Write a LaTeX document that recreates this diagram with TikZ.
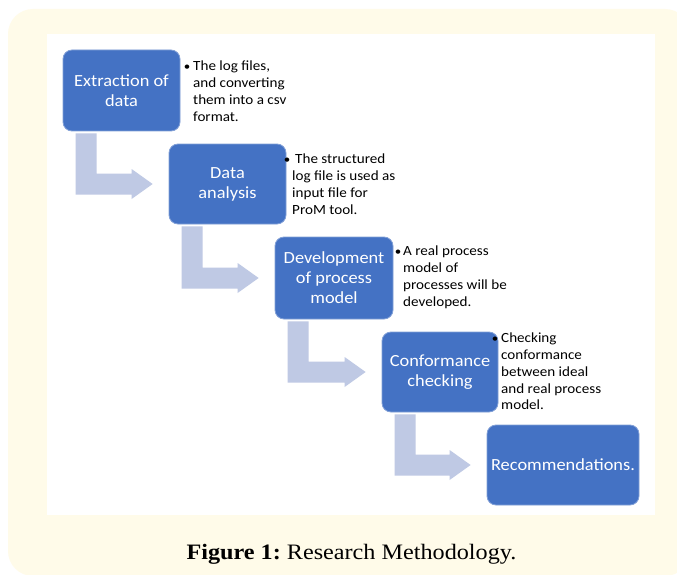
\documentclass[tikz,border=0pt]{standalone}
\usepackage{fontspec}
\usetikzlibrary{calc}
\newfontfamily\carl[FakeStretch=1.08]{Carlito}
\newfontfamily\capfont[FakeStretch=1.1]{Liberation Serif}
\definecolor{cream}{RGB}{255,251,233}
\definecolor{boxblue}{RGB}{68,114,196}
\definecolor{boxedge}{RGB}{130,160,215}
\definecolor{arrowblue}{RGB}{191,201,228}
\tikzset{
 stepbox/.style={fill=boxblue, draw=boxedge, line width=0.8pt, rounded corners=9pt,
   text=white, align=center, font=\carl\fontsize{17}{20}\selectfont, inner sep=0pt},
 note/.style={anchor=north west, align=left, inner sep=0pt, font=\carl\fontsize{14}{16.7}\selectfont},
 dot/.style={anchor=base, inner sep=0pt, font=\carl\fontsize{12}{14}\selectfont},
}
\newcommand\bentarrow[2]{%
 \coordinate (#1s) at ($(#1.south west)+(13,2)$);
 \coordinate (#1t) at ($(#2.west)+(-16,0)$);
 \fill[arrowblue] let \p1=(#1s), \p2=(#1t) in
   (\x1,\y1) -- (\x1+21pt,\y1) -- (\x1+21pt,\y2+10.5pt) -- (\x2-21pt,\y2+10.5pt)
   -- (\x2-21pt,\y2+15pt) -- (\x2,\y2) -- (\x2-21pt,\y2-15pt) -- (\x2-21pt,\y2-10.5pt)
   -- (\x1,\y2-10.5pt) -- cycle;
}
\begin{document}
\begin{tikzpicture}[x=1pt,y=-1pt]
\useasboundingbox (0,0) rectangle (677,575);
\fill[white] (0,0) rectangle (677,575);
\begin{scope}
\clip (0,0) rectangle (677,575);
\fill[cream, rounded corners=25pt] (8,9) rectangle (690,576);
\end{scope}
\fill[white] (47,34) rectangle (655,515);

\node[stepbox, minimum width=117pt, minimum height=81pt] (b1) at (121.5,90.5) {Extraction of\\data};
\node[stepbox, minimum width=117pt, minimum height=80pt] (b2) at (227.5,184) {Data\\analysis};
\node[stepbox, minimum width=118pt, minimum height=82pt] (b3) at (334,278) {Development\\of process\\model};
\node[stepbox, minimum width=116pt, minimum height=80pt] (b4) at (440,372) {Conformance\\checking};
\node[stepbox, minimum width=152pt, minimum height=80pt] (b5) at (563,465) {Recommendations.};

\bentarrow{b1}{b2}
\bentarrow{b2}{b3}
\bentarrow{b3}{b4}
\bentarrow{b4}{b5}

\node[dot] (d1) at (187,70.5) {•};
\node[note] (n1) at (193,61) {The log files,\\and converting\\them into a csv\\format.};
\node[dot] (d2) at (287,163.5) {•};
\node[note] (n2) at (292,154) {\hspace{3pt}The structured\\log file is used as\\input file for\\ProM tool.};
\node[dot] (d3) at (398,255.5) {•};
\node[note] (n3) at (403,246) {A real process\\model of\\processes will be\\developed.};
\node[dot] (d4) at (495,342.5) {•};
\node[note] (n4) at (501,333) {Checking\\conformance\\between ideal\\and real process\\model.};

\node[anchor=base, inner sep=0pt, font=\capfont\fontsize{22}{26}\selectfont] (cap) at (351.5,559) {\textbf{Figure 1:}\hspace{-2pt} Research Methodology.};
\end{tikzpicture}
\end{document}
